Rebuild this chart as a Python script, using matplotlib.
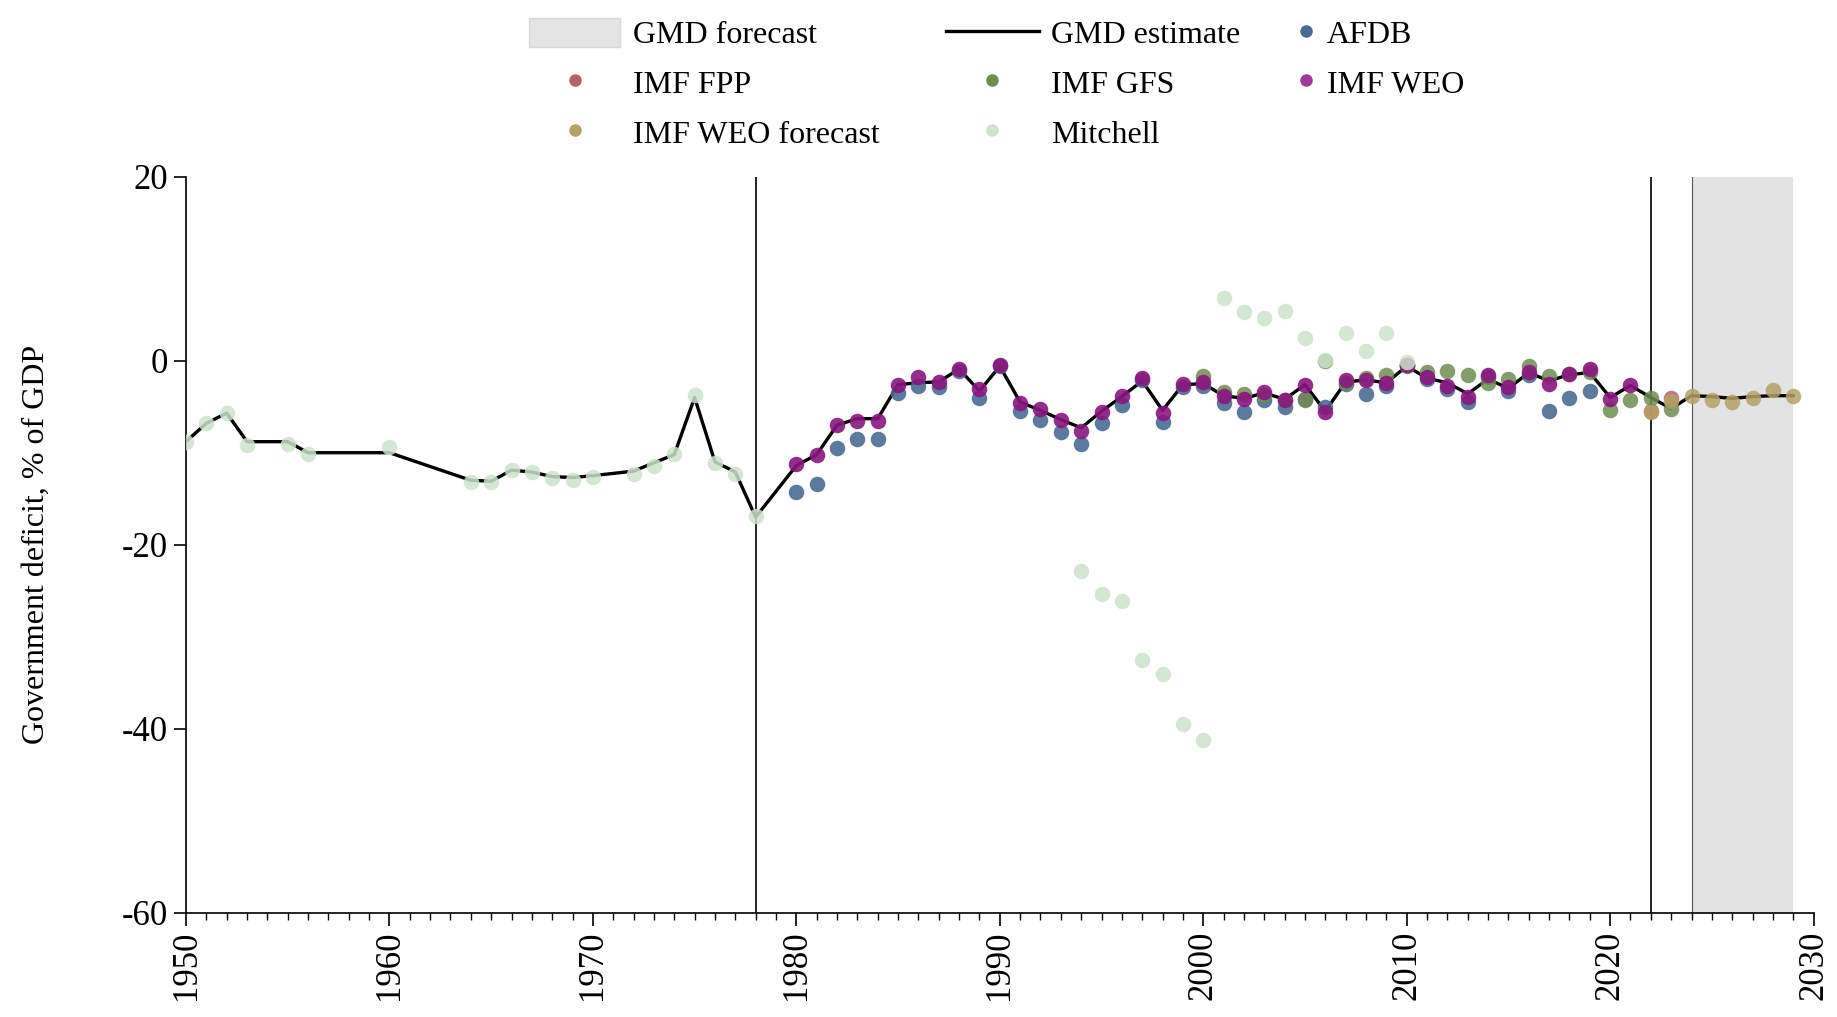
import matplotlib
matplotlib.use("Agg")
import matplotlib.pyplot as plt
from matplotlib.patches import Patch
from matplotlib.lines import Line2D

plt.rcParams['font.family'] = ['Liberation Serif', 'DejaVu Serif']
plt.rcParams['axes.unicode_minus'] = False

# GMD estimate (black line)
gmd_years = [1950, 1951, 1952, 1953, 1955, 1956, 1960, 1964, 1965, 1966, 1967, 1968, 1969,
             1970, 1972, 1973, 1974, 1975, 1976, 1977, 1978,
             1980, 1981, 1982, 1983, 1984, 1985, 1986, 1987, 1988, 1989,
             1990, 1991, 1992, 1993, 1994, 1995, 1996, 1997, 1998, 1999,
             2000, 2001, 2002, 2003, 2004, 2005, 2006, 2007, 2008, 2009,
             2010, 2011, 2012, 2013, 2014, 2015, 2016, 2017, 2018, 2019,
             2020, 2021, 2022, 2023, 2024, 2025, 2026, 2027, 2028, 2029]
gmd_vals = [-8.8, -6.8, -5.7, -8.8, -8.8, -10.0, -10.0, -13.0, -13.1, -11.9, -12.1, -12.6, -12.7,
            -12.5, -12.0, -11.1, -10.2, -4.0, -11.0, -12.1, -17.0,
            -11.4, -10.2, -7.0, -6.3, -6.3, -2.6, -2.4, -2.3, -0.9, -3.3,
            -0.6, -4.5, -5.4, -6.4, -7.3, -5.5, -3.9, -2.2, -5.4, -2.6,
            -2.5, -3.8, -4.1, -3.5, -4.2, -2.6, -5.5, -2.3, -2.1, -2.4,
            -0.6, -1.9, -2.4, -3.6, -2.0, -3.0, -1.3, -2.2, -1.5, -1.3,
            -4.0, -2.7, -4.0, -5.2, -3.8, -3.9, -4.1, -3.9, -3.8, -3.8]

afdb_years = list(range(1980, 2020))
afdb_vals = [-14.3, -13.4, -9.5, -8.55, -8.55, -3.55, -2.7, -2.85, -1.15, -4.1,
             -0.6, -5.5, -6.45, -7.7, -9.0, -6.75, -4.8, -2.1, -6.7, -2.9,
             -2.8, -4.6, -5.6, -4.3, -5.0, -4.2, -5.0, -2.5, -3.6, -2.7,
             -0.5, -2.0, -3.1, -4.5, -1.8, -3.3, -1.55, -5.5, -4.1, -3.3]

fpp_years = [2022, 2023]
fpp_vals = [-5.5, -4.1]

gfs_years = list(range(2000, 2024))
gfs_vals = [-1.7, -3.37, -3.58, -3.75, -4.3, -4.3, 0.0, -2.42, -1.84, -1.5,
            -0.6, -1.26, -1.12, -1.5, -2.37, -2.0, -0.55, -1.7, -1.41, -1.26,
            -5.38, -4.3, -4.02, -5.27]

weo_years = list(range(1980, 2022))
weo_vals = [-11.2, -10.25, -7.0, -6.55, -6.5, -2.65, -1.77, -2.28, -0.9, -3.1,
            -0.45, -4.55, -5.3, -6.45, -7.65, -5.55, -3.85, -1.85, -5.7, -2.57,
            -2.3, -3.84, -4.15, -3.45, -4.22, -2.6, -5.6, -2.14, -2.14, -2.46,
            -0.45, -1.75, -2.75, -3.9, -1.6, -2.86, -1.25, -2.57, -1.41, -0.9,
            -4.2, -2.68]

weof_years = list(range(2022, 2030))
weof_vals = [-5.6, -4.4, -3.8, -4.3, -4.5, -4.06, -3.22, -3.84]

mitchell_years = [1950, 1951, 1952, 1953, 1955, 1956, 1960, 1964, 1965, 1966, 1967, 1968,
                  1969, 1970, 1972, 1973, 1974, 1975, 1976, 1977, 1978,
                  1994, 1995, 1996, 1997, 1998, 1999, 2000,
                  2001, 2002, 2003, 2004, 2005, 2006, 2007, 2008, 2009, 2010]
mitchell_vals = [-8.8, -6.8, -5.7, -9.2, -9.1, -10.1, -9.4, -13.2, -13.2, -11.9, -12.1, -12.8,
                 -13.0, -12.6, -12.3, -11.4, -10.1, -3.7, -11.1, -12.3, -16.9,
                 -22.9, -25.4, -26.1, -32.5, -34.1, -39.5, -41.2,
                 6.8, 5.3, 4.6, 5.4, 2.5, 0.1, 3.0, 1.1, 3.0, -0.1]

c_afdb = '#4a6c92'
c_fpp = '#b5616b'
c_gfs = '#6f8c52'
c_weo = '#8a1680'
c_weof = '#b6a166'
c_mitch = '#cce3cc'

fig = plt.figure(figsize=(18.37, 10.17), dpi=100)
W, H = 1837, 1017
ax = fig.add_axes([186 / W, 1 - 912.7 / H, (1813.6 - 186) / W, (912.7 - 176.7) / H])

ax.axvspan(2024, 2029, color='#e3e3e3', lw=0, zorder=0)
ax.axvline(2024, color='#555555', lw=0.8, zorder=1)
ax.axvline(1978, color='black', lw=1.2, zorder=1)
ax.axvline(2022, color='black', lw=1.2, zorder=1)

ax.plot(gmd_years, gmd_vals, color='black', lw=2.4, zorder=2)

sz = 125
ax.scatter(afdb_years, afdb_vals, s=sz, color=c_afdb, alpha=0.9, lw=0, zorder=3)
ax.scatter(fpp_years, fpp_vals, s=sz, color=c_fpp, alpha=0.85, lw=0, zorder=3)
ax.scatter(gfs_years, gfs_vals, s=sz, color=c_gfs, alpha=0.85, lw=0, zorder=3)
ax.scatter(weo_years, weo_vals, s=sz, color=c_weo, alpha=0.9, lw=0, zorder=3)
ax.scatter(weof_years, weof_vals, s=sz, color=c_weof, alpha=0.85, lw=0, zorder=3)
ax.scatter(mitchell_years, mitchell_vals, s=sz, color=c_mitch, alpha=0.85, lw=0, zorder=3)

ax.set_xlim(1950, 2030)
ax.set_ylim(-60, 20)
ax.set_xticks(range(1950, 2031, 10))
ax.set_xticks(range(1950, 2031, 1), minor=True)
ax.set_yticks(range(-60, 21, 20))
ax.tick_params(axis='x', which='major', length=9, width=1.2, labelsize=25, labelrotation=90, pad=4)
ax.tick_params(axis='x', which='minor', length=5, width=1.0)
ax.tick_params(axis='y', which='major', length=9, width=1.2, labelsize=25, pad=4)
for s in ['top', 'right']:
    ax.spines[s].set_visible(False)
for s in ['left', 'bottom']:
    ax.spines[s].set_linewidth(1.2)

ax.set_ylabel('Government deficit, % of GDP', fontsize=23)
ax.yaxis.set_label_coords(-0.083, 0.5)

# legend, built as three columns
fs = 23
ms = 8
col1 = [Patch(facecolor='#e4e4e4', edgecolor='#d9d9d9', label='GMD forecast'),
        Line2D([], [], ls='', marker='o', ms=ms, color=c_fpp, label='IMF FPP'),
        Line2D([], [], ls='', marker='o', ms=ms, color=c_weof, label='IMF WEO forecast')]
col2 = [Line2D([], [], color='black', lw=2.4, label='GMD estimate'),
        Line2D([], [], ls='', marker='o', ms=ms, color=c_gfs, label='IMF GFS'),
        Line2D([], [], ls='', marker='o', ms=ms, color=c_mitch, label='Mitchell')]
col3 = [Line2D([], [], ls='', marker='o', ms=ms, color=c_afdb, label='AFDB'),
        Line2D([], [], ls='', marker='o', ms=ms, color='#a03a98', label='IMF WEO')]

top = 1 - 18 / H
common = dict(loc='upper left', frameon=False, fontsize=fs, borderpad=0, borderaxespad=0,
              labelspacing=0.55, handleheight=1.0, handletextpad=0.4)
leg1 = fig.legend(handles=col1, bbox_to_anchor=(529 / W, top), handlelength=2.85, **common)
leg2 = fig.legend(handles=col2, bbox_to_anchor=(946 / W, top), handlelength=2.9, **common)
leg3 = fig.legend(handles=col3, bbox_to_anchor=(1298 / W, top), handlelength=0.5, **common)

fig.savefig('out.png', dpi=100)
